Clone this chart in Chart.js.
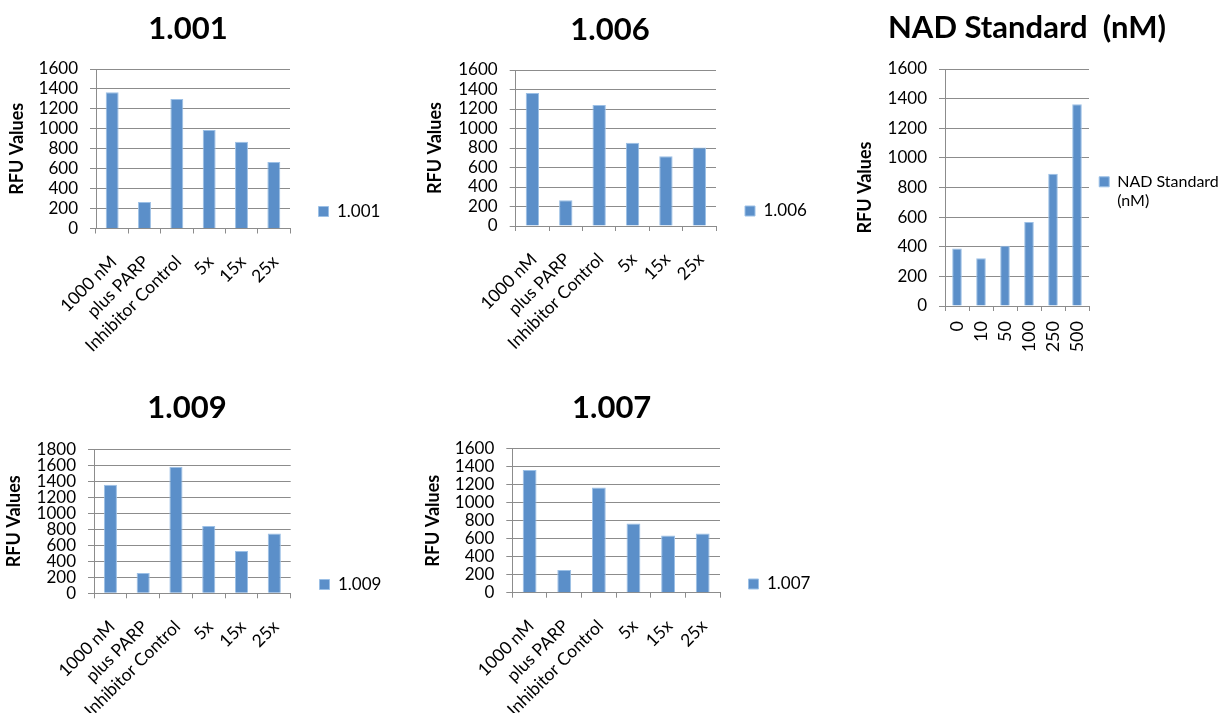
<!DOCTYPE html>
<html><head><meta charset="utf-8">
<script src="https://cdn.jsdelivr.net/npm/chart.js@4/dist/chart.umd.min.js"></script>
<style>
html,body{margin:0;padding:0;background:#fff;overflow:hidden;}
#wrap{position:relative;width:1226px;height:713px;overflow:hidden;background:#fff;}
#wrap canvas{position:absolute;}
</style></head><body><div id="wrap"></div>
<script>
// ---- data ----
const sampleCategories = ['1000 nM', 'plus PARP', 'Inhibitor Control', '5x', '15x', '25x'];
const values1001 = [1367, 267, 1300, 987, 870, 667];
const values1006 = [1365, 265, 1240, 855, 715, 805];
const values1009 = [1358, 254, 1583, 841, 529, 746];
const values1007 = [1362, 252, 1169, 768, 635, 657];
const nadCategories = ['0', '10', '50', '100', '250', '500'];
const nadValues = [389, 322, 407, 567, 893, 1362];
const yAxisMax1600 = 1600;
const yAxisMax1800 = 1800;
const yTickStep = 200;
const yAxisTitle = 'RFU Values';

// ---- style ----
const FONT = 'Lato';
const TITLE_SIZE = 31, YTITLE_SIZE = 18, TICK_SIZE = 17;
const BAR = '#5b8fc9';
const BAR_EDGE = '#9cc0e6';
const GRID = '#8c8c8c';

// ---- panel geometry (absolute page pixels) ----
const panels = [
  {title: '1.001', series: '1.001', labels: sampleCategories, data: values1001, ymax: yAxisMax1600,
   top: 0, plotL: 96, plotR: 290, plotT: 69, plotB: 228.5, titleCX: 188, titleCY: 29,
   yTitleCX: 17, legendBoxX: 318.5, legendCY: 211.5, legendSize: 17, legendItemW: 65,
   rot: 45, xSize: 17.5, xPad: 18, xOff: 1.5},
  {title: '1.006', series: '1.006', labels: sampleCategories, data: values1006, ymax: yAxisMax1600,
   top: 0, plotL: 515.7, plotR: 716, plotT: 70, plotB: 226, titleCX: 610, titleCY: 30,
   yTitleCX: 435, legendBoxX: 745, legendCY: 211, legendSize: 17, legendItemW: 65,
   rot: 45, xSize: 17.5, xPad: 18, xOff: 1.5},
  {title: 'NAD Standard  (nM)', series: ['NAD Standard', '(nM)'], labels: nadCategories, data: nadValues, ymax: yAxisMax1600,
   top: 0, plotL: 945, plotR: 1089, plotT: 69, plotB: 306, titleCX: 1027, titleCY: 28.3,
   yTitleCX: 865, legendBoxX: 1099.2, legendCY: 181.7, legendSize: 16, legendItemW: 124,
   rot: 90, xSize: 18, xPad: 10, xOff: 0},
  {title: '1.009', series: '1.009', labels: sampleCategories, data: values1009, ymax: yAxisMax1800,
   top: 380, plotL: 94, plotR: 290.7, plotT: 449.3, plotB: 593.3, titleCX: 187, titleCY: 408,
   yTitleCX: 14, legendBoxX: 319.5, legendCY: 584.3, legendSize: 17, legendItemW: 65,
   rot: 45, xSize: 17.5, xPad: 18, xOff: 1.5},
  {title: '1.007', series: '1.007', labels: sampleCategories, data: values1007, ymax: yAxisMax1600,
   top: 380, plotL: 512.3, plotR: 720, plotT: 448.7, plotB: 592.7, titleCX: 611.7, titleCY: 408.3,
   yTitleCX: 433.3, legendBoxX: 748.5, legendCY: 584, legendSize: 17, legendItemW: 65,
   rot: 45, xSize: 17.5, xPad: 18, xOff: 1.5}
];

const wrap = document.getElementById('wrap');

function build(p) {
  const titleLH = TITLE_SIZE * 1.2;
  const legendPad = p.legendBoxX - p.plotR;
  const legendW = legendPad + p.legendItemW;
  const legendRight = p.plotR + legendW;
  const leftEdge = 2 * p.titleCX - legendRight;
  const canvasLeft = Math.floor(leftEdge);
  const padL = leftEdge - canvasLeft;
  const W = Math.ceil(legendRight - canvasLeft) + 1;
  const padR = W - (legendRight - canvasLeft);
  const lines = Array.isArray(p.series) ? p.series.length : 1;
  const firstLineShift = lines > 1 ? (lines * p.legendSize * 1.2) / 2 - p.legendSize / 2 : 0;
  const H = Math.round(2 * (p.legendCY + firstLineShift - p.top));
  const xH = H - (p.plotB - p.top);
  const yW = p.plotL - leftEdge;
  const yTitlePad = p.yTitleCX - leftEdge - YTITLE_SIZE * 1.2 / 2;
  const tPadTop = p.titleCY - p.top - titleLH / 2;
  const tPadBot = p.plotT - p.titleCY - titleLH / 2;

  const c = document.createElement('canvas');
  c.width = W; c.height = H;
  c.style.left = canvasLeft + 'px'; c.style.top = p.top + 'px';
  c.style.width = W + 'px'; c.style.height = H + 'px';
  wrap.appendChild(c);
  new Chart(c, {
    type: 'bar',
    data: {
      labels: p.labels,
      datasets: [{
        label: p.series, data: p.data,
        backgroundColor: BAR, borderColor: BAR_EDGE, borderWidth: 1,
        barPercentage: 0.4, categoryPercentage: 1.0
      }]
    },
    options: {
      responsive: false, animation: false, devicePixelRatio: 1,
      layout: {padding: {left: padL, top: 0, bottom: 0, right: padR}},
      plugins: {
        title: {display: true, text: p.title, color: '#000',
          font: {family: FONT, size: TITLE_SIZE, weight: 'bold'},
          padding: {top: tPadTop, bottom: tPadBot}},
        legend: {position: 'right', align: 'center', maxWidth: legendW,
          labels: {boxWidth: 10, boxHeight: 10, padding: legendPad, color: '#000',
            font: {family: FONT, size: p.legendSize}}},
        tooltip: {enabled: false}
      },
      scales: {
        x: {
          grid: {display: true, drawOnChartArea: false, drawTicks: true, tickLength: 5, color: GRID, offset: true},
          border: {color: GRID, width: 1},
          ticks: {minRotation: p.rot, maxRotation: p.rot, autoSkip: false, padding: p.xPad,
            labelOffset: p.xOff, color: '#000', font: {family: FONT, size: p.xSize}},
          afterFit(s) { s.height = xH; }
        },
        y: {
          min: 0, max: p.ymax,
          ticks: {stepSize: yTickStep, autoSkip: false, padding: 12, color: '#000',
            font: {family: FONT, size: TICK_SIZE}, callback: v => String(v)},
          grid: {color: GRID, tickLength: 6, lineWidth: 1},
          border: {color: GRID, width: 1},
          title: {display: true, text: yAxisTitle, color: '#000',
            font: {family: FONT, size: YTITLE_SIZE, weight: 'bold'},
            padding: {top: yTitlePad, bottom: 0}},
          afterFit(s) { s.width = yW; }
        }
      }
    }
  });
}
panels.forEach(build);
</script>
</body></html>
